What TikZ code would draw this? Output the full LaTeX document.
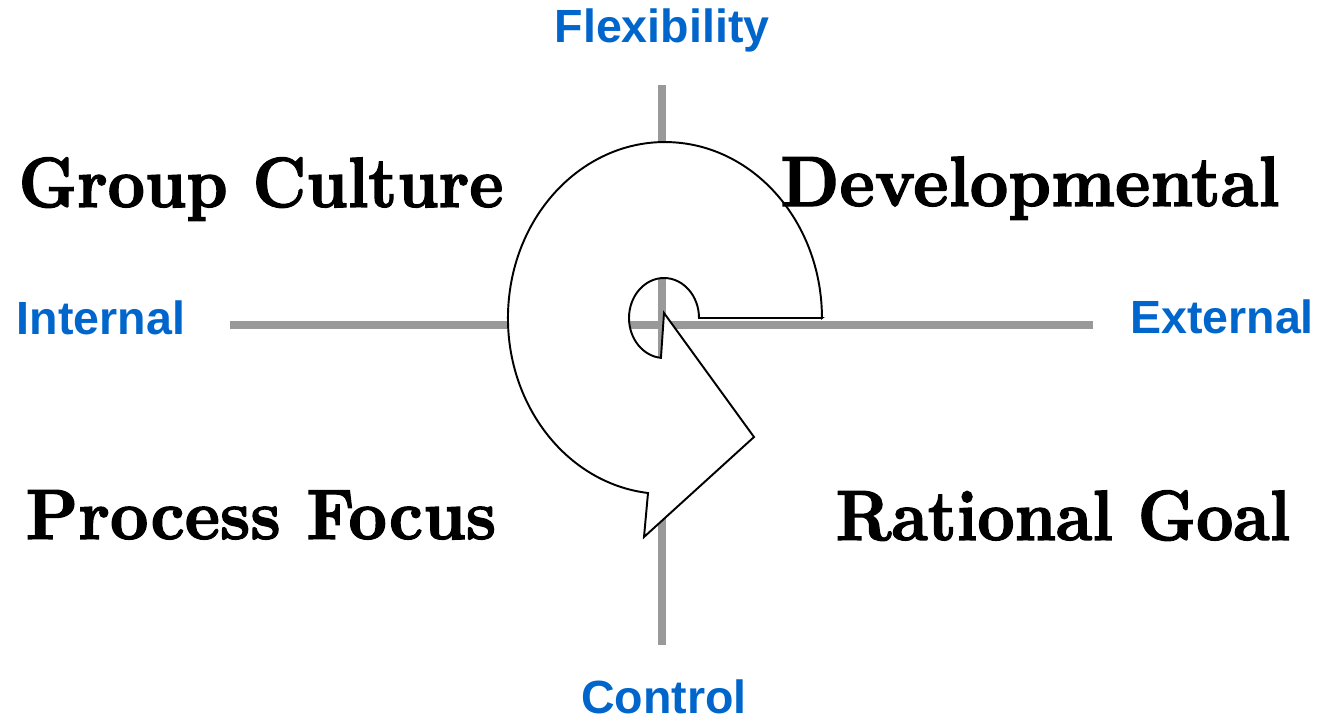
\documentclass[tikz,border=0pt]{standalone}
\usepackage{fontspec}
\newfontfamily\labelsans{Liberation Sans}
\newfontfamily\quadbold{lmroman10-bold}[Extension=.otf,FakeBold=1.8]
\definecolor{dimblue}{RGB}{0,102,204}
\definecolor{axisgray}{RGB}{153,153,153}
\begin{document}
\begin{tikzpicture}[x=0.02cm,y=-0.02cm,
  dimlabel/.style={anchor=base,inner sep=0pt,text=dimblue,
    font=\labelsans\fontsize{26.5}{30}\selectfont\bfseries},
  quadlabel/.style={anchor=base,inner sep=0pt,
    font=\quadbold\fontsize{40.5}{48}\selectfont},
  axisline/.style={draw=axisgray,line width=4pt},
  spiral/.style={draw=black,fill=white,line width=1.1pt,line join=miter}]
\useasboundingbox (0,0) rectangle (1319,721);

% axis end points
\coordinate (top) at (662,85);
\coordinate (bottom) at (662,645);
\coordinate (left) at (230,325);
\coordinate (right) at (1093,325);

\draw[axisline] (top) -- (bottom);
\draw[axisline] (left) -- (right);

% dimension labels
\node[dimlabel] (flex) at (662,42) {Flexibility};
\node[dimlabel] (ctrl) at (664,713) {Control};
\node[dimlabel] (int) at (101,334) {Internal};
\node[dimlabel] (ext) at (1222,333) {External};

% spiral arrow
\path[spiral] (822,318) -- (699,318)
  arc[start angle=0, end angle=-265, x radius=35, y radius=40]
  -- (664,313) -- (754,437) -- (644,537) -- (648,493)
  arc[start angle=96.2, end angle=360, x radius=157, y radius=176]
  -- cycle;

% quadrant labels
\node[quadlabel] (gc) at (261,207) {\scalebox{0.91}[1]{Group Culture}};
\node[quadlabel] (dev) at (1030,206) {\scalebox{0.94}[1]{Developmental}};
\node[quadlabel] (pf) at (261,539) {\scalebox{0.94}[1]{Process Focus}};
\node[quadlabel] (rg) at (1063,540) {\scalebox{0.91}[1]{Rational Goal}};
\end{tikzpicture}
\end{document}
